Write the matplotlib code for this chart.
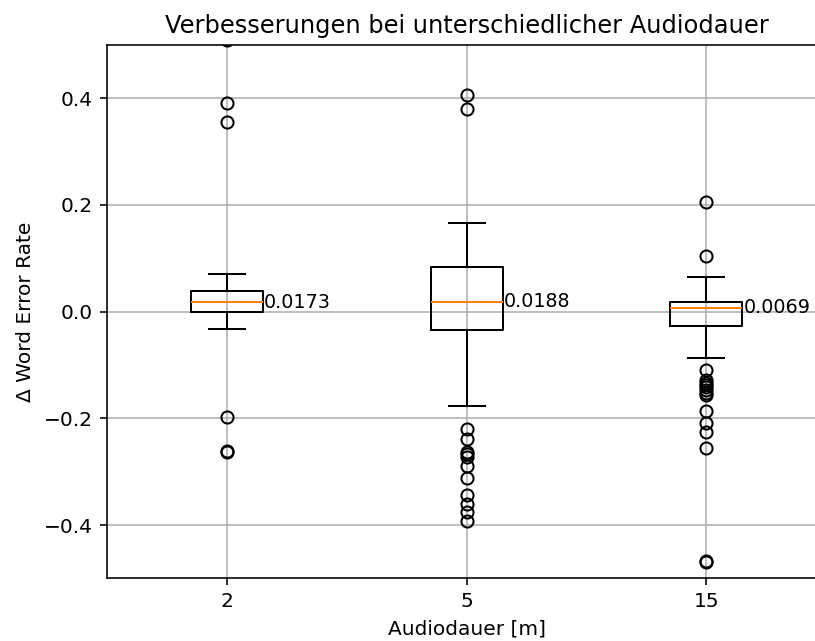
import matplotlib
matplotlib.use("Agg")
import matplotlib.pyplot as plt

# Audio duration groups (minutes)
labels = ['2', '5', '15']

# Box statistics
medians = [0.0173, 0.0188, 0.0069]
q1 = [0.0, -0.034, -0.027]
q3 = [0.038, 0.084, 0.018]
whislo = [-0.032, -0.176, -0.087]
whishi = [0.071, 0.167, 0.065]

fliers_2 = [0.51, 0.391, 0.355, -0.198, -0.262, -0.264]
fliers_5 = [0.406, 0.379, -0.220, -0.239, -0.263, -0.267, -0.272, -0.290,
            -0.312, -0.344, -0.361, -0.376, -0.392]
fliers_15 = [0.205, 0.104, -0.109, -0.128, -0.133, -0.137, -0.142, -0.147,
             -0.152, -0.156, -0.187, -0.209, -0.225, -0.256, -0.468, -0.470]
fliers = [fliers_2, fliers_5, fliers_15]

stats = []
for i in range(len(labels)):
    stats.append({
        'label': labels[i],
        'med': medians[i],
        'q1': q1[i],
        'q3': q3[i],
        'whislo': whislo[i],
        'whishi': whishi[i],
        'fliers': fliers[i],
    })

# the reference looks like a default matplotlib figure blown up ~1.45x
k = 1.45

fig = plt.figure(figsize=(8.15, 6.41), dpi=100)
# the reference is cut off on the right, so the axes runs past the figure edge
ax = fig.add_axes([0.1307, 0.0977, 0.8834, 0.8323])

lw = 1.0 * k
ax.bxp(stats, positions=[1, 2, 3], widths=0.3,
       boxprops=dict(linewidth=lw),
       whiskerprops=dict(linewidth=lw),
       capprops=dict(linewidth=lw),
       medianprops=dict(linewidth=lw, color='#ff7f0e'),
       flierprops=dict(marker='o', markersize=6 * k, markeredgewidth=lw,
                       markerfacecolor='none', markeredgecolor='black'))

# median value next to each box
for i, med in enumerate(medians):
    ax.text(i + 1 + 0.155, med, f'{med:.4f}', va='center', ha='left', fontsize=13.8)

ax.set_ylim(-0.5, 0.5)
ax.set_xlim(0.5, 3.5)
ax.set_title('Verbesserungen bei unterschiedlicher Audiodauer', fontsize=12 * k, pad=6 * k)
ax.set_xlabel('Audiodauer [m]', fontsize=10 * k, labelpad=4 * k)
ax.set_ylabel('Δ Word Error Rate', fontsize=10 * k, labelpad=4 * k)
ax.tick_params(labelsize=10 * k, width=0.8 * k, length=3.5 * k, pad=3.5 * k)
for s in ax.spines.values():
    s.set_linewidth(0.8 * k)
# right edge is cropped off in the reference
ax.spines['right'].set_visible(False)
ax.grid(True, color='#b0b0b0', linewidth=0.8 * k)
ax.set_axisbelow(True)

fig.savefig('out.png', dpi=100)
